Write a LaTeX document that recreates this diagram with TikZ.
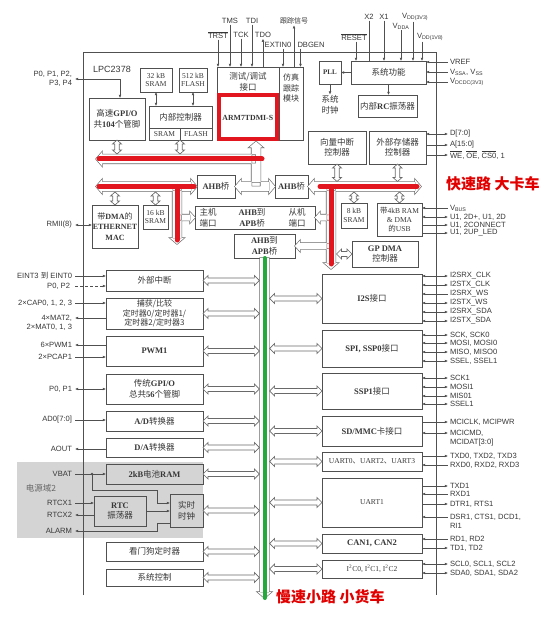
\documentclass[tikz,border=0pt]{standalone}
\usepackage{fontspec}
\setmainfont{Liberation Serif}
\setsansfont{Liberation Sans}
\newfontfamily\cjk{Noto Sans CJK SC}
\usetikzlibrary{arrows.meta,calc}
\definecolor{bc}{RGB}{80,80,80}
\definecolor{tc}{RGB}{55,55,55}
\definecolor{hc}{RGB}{105,105,105}
\definecolor{pdc}{RGB}{212,212,212}
\definecolor{rb}{RGB}{226,22,30}
\definecolor{gb}{RGB}{34,170,60}
\definecolor{rt}{RGB}{225,0,0}
\newcommand\zh[1]{{\cjk #1}}
\newcommand\latb[1]{{\rmfamily\bfseries #1}}
\newcommand\ovl[1]{$\overline{\mbox{#1}}$}
\newcommand\bx[7][]{\node[box,minimum width={#5-#3},minimum height={#6-#4},#1] (#2) at ({(#3+#5)/2},{(#4+#6)/2}) {#7};}
\newcommand\ls[5]{\node[lbl,anchor=east] (#1) at (73,#3) {#4}; \draw[sig,#5] ($(#1.east)+(2,0)$) -- (#1.east -| #2.west);}
\newcommand\rs[5]{\node[lbl,anchor=west] (#1) at (449,#3) {#4}; \draw[sig,#5] (#1.west -| #2.east) -- ($(#1.west)+(-1,0)$);}
\def\hdbl#1#2{let \p1=(#1),\p2=(#2) in (\x1,\y1) -- ({\x1+5pt},{\y1+5pt}) -- ({\x1+5pt},{\y1+2.5pt}) -- ({\x2-5pt},{\y1+2.5pt}) -- ({\x2-5pt},{\y1+5pt}) -- (\x2,\y1) -- ({\x2-5pt},{\y1-5pt}) -- ({\x2-5pt},{\y1-2.5pt}) -- ({\x1+5pt},{\y1-2.5pt}) -- ({\x1+5pt},{\y1-5pt}) -- cycle}
\def\vdbl#1#2{let \p1=(#1),\p2=(#2) in (\x1,\y1) -- ({\x1+4.5pt},{\y1-4pt}) -- ({\x1+2.2pt},{\y1-4pt}) -- ({\x1+2.2pt},{\y2+4pt}) -- ({\x1+4.5pt},{\y2+4pt}) -- (\x1,\y2) -- ({\x1-4.5pt},{\y2+4pt}) -- ({\x1-2.2pt},{\y2+4pt}) -- ({\x1-2.2pt},{\y1-4pt}) -- ({\x1-4.5pt},{\y1-4pt}) -- cycle}
\def\Hbar#1#2#3{let \p1=(#1),\p2=(#2) in (\x1,{\y1-#3}) rectangle (\x2,{\y1+#3})}
\def\Vbar#1#2#3{let \p1=(#1),\p2=(#2) in ({\x1-#3},\y1) rectangle ({\x1+#3},\y2)}
\def\Hl#1#2#3{let \p1=(#1) in (\x1,\y1) -- ({\x1+#3},{\y1+#2}) -- ({\x1+#3},{\y1-#2}) -- cycle}
\def\Hr#1#2#3{let \p1=(#1) in (\x1,\y1) -- ({\x1-#3},{\y1+#2}) -- ({\x1-#3},{\y1-#2}) -- cycle}
\def\Vu#1#2#3{let \p1=(#1) in (\x1,\y1) -- ({\x1-#2},{\y1-#3}) -- ({\x1+#2},{\y1-#3}) -- cycle}
\def\Vdn#1#2#3{let \p1=(#1) in (\x1,\y1) -- ({\x1-#2},{\y1+#3}) -- ({\x1+#2},{\y1+#3}) -- cycle}
\newcommand\bus[1]{\path[draw=hc,line width=1.3pt,line join=miter] #1; \path[fill=white] #1;}
\begin{document}
\begin{tikzpicture}[x=1pt,y=-1pt,
 box/.style={draw=bc,line width=0.9pt,inner sep=0pt,outer sep=0pt,align=center,text=tc,font=\cjk\fontsize{8.5}{10.5}\selectfont},
 ser/.style={font=\rmfamily\fontsize{7.5}{8.8}\selectfont},
 lbl/.style={inner sep=1pt,outer sep=0pt,text=tc,align=right,font=\sffamily\fontsize{7.6}{8.8}\selectfont},
 zl/.style={inner sep=1pt,outer sep=0pt,text=tc,align=center,font=\cjk\fontsize{8.5}{11}\selectfont},
 sig/.style={draw=bc,line width=0.55pt,>={Latex[length=3.2pt,width=2.8pt]}},
 hol/.style={draw=hc,line width=0.65pt,fill=white,line join=miter},
 redbus/.style={draw=rb,line width=5pt,line cap=round},
 redtxt/.style={text=rt,inner sep=0pt,font=\cjk\bfseries\fontsize{15}{15}\selectfont},
]
\useasboundingbox (0,0) rectangle (553,620);
% power domain and chip outline
\fill[pdc] (17,462) rectangle (203,538);
\draw[bc,line width=0.9pt] (83,595) -- (83,52) -- (436,52) -- (436,595);
\node[lbl,font=\sffamily\fontsize{9}{10}\selectfont] (chipname) at (112,69) {LPC2378};
\node[zl,text=black!60] (pd) at (41,488) {电源域2};

% ---------- boxes ----------
\bx{gpio}{89}{98}{145}{140}{高速\latb{GPI/O}\\共\latb{104}个管脚}
\bx[ser]{sram32}{140}{68}{172}{92}{32 kB\\SRAM}
\bx[ser]{flash}{179}{68}{207}{92}{512 kB\\FLASH}
\bx{memc}{149}{106}{212}{128}{内部控制器}
\bx[ser]{memsram}{149}{128}{180}{140}{SRAM}
\bx[ser]{memflash}{180}{128}{212}{140}{FLASH}
\bx{dbg}{217}{67}{279}{140}{}
\node[zl] (dbgt) at (248,82) {测试/调试\\接口};
\node[draw=rb,line width=4pt,inner sep=0pt,outer sep=0pt,minimum width=57.5,minimum height=44,text=tc,font=\rmfamily\bfseries\fontsize{7.8}{9}\selectfont] (arm) at (247.75,117.5) {ARM7TDMI-S};
\bx{etm}{279}{67}{303}{140}{}
\node[zl,font=\cjk\fontsize{8}{10.5}\selectfont] (etmt) at (291,88) {仿真\\跟踪\\模块};
\bx[font=\rmfamily\bfseries\fontsize{7}{8}\selectfont]{pll}{319}{61}{341}{84}{PLL}
\bx{sysf}{351}{61}{426}{84}{系统功能}
\bx{rc}{358}{95}{417}{117}{内部\latb{RC}振荡器}
\bx{vic}{308}{131}{366}{164}{向量中断\\控制器}
\bx{emc}{369}{131}{426}{164}{外部存储器\\控制器}
\bx{bridgeL}{197}{175}{235}{198}{\latb{AHB}桥}
\bx{bridgeR}{275}{175}{308}{198}{\latb{AHB}桥}
\bx[font=\cjk\fontsize{8}{10.5}\selectfont]{mac}{92}{205}{138}{248}{带\latb{DMA}的\\\latb{ETHERNET}\\\latb{MAC}}
\bx[ser]{sram16}{143}{205}{168}{229}{16 kB\\SRAM}
\bx{apbw}{195}{206}{315}{229}{}
\node[zl] (mport) at (208,217.5) {主机\\端口};
\node[zl] (apbwt) at (252,217.5) {\latb{AHB}到\\\latb{APB}桥};
\node[zl] (sport) at (297,217.5) {从机\\端口};
\bx{apbs}{234}{234}{295}{258}{\latb{AHB}到\\\latb{APB}桥}
\bx[ser]{sram8}{341}{203}{367}{228}{8 kB\\SRAM}
\bx[ser]{usb}{377}{203}{422}{236}{\zh{带}4kB RAM\\\& DMA\\\zh{的}USB}
\bx{gpdma}{352}{241}{418}{267}{\latb{GP DMA}\\控制器}

\bx{ext}{106}{270}{203}{291}{外部中断}
\bx[font=\cjk\fontsize{8}{9.5}\selectfont]{tmr}{106}{298}{203}{329}{捕获/比较\\定时器0/定时器1/\\定时器2/定时器3}
\bx{pwm}{106}{336}{203}{366}{\latb{PWM1}}
\bx{gpio2}{106}{374}{203}{404}{传统\latb{GPI/O}\\总共\latb{56}个管脚}
\bx{adc}{106}{411}{203}{431}{\latb{A/D}转换器}
\bx{dac}{106}{438}{203}{457}{\latb{D/A}转换器}
\bx[fill=pdc]{bram}{106}{464}{203}{484}{\latb{2kB}电池\latb{RAM}}
\bx[fill=pdc]{rtco}{94}{496}{146}{526}{\latb{RTC}\\振荡器}
\bx[fill=pdc]{rtc}{170}{494}{203}{527}{实时\\时钟}
\bx{wdt}{106}{542}{203}{561}{看门狗定时器}
\bx{sysc}{106}{569}{203}{586}{系统控制}

\bx{i2s}{322}{274}{422}{323}{\latb{I2S}接口}
\bx{spi}{322}{330}{422}{367}{\latb{SPI, SSP0}接口}
\bx{ssp1}{322}{373}{422}{409}{\latb{SSP1}接口}
\bx{sd}{322}{416}{422}{446}{\latb{SD/MMC}卡接口}
\bx[ser]{uart0}{322}{452}{422}{471}{UART0\zh{、}UART2\zh{、}UART3}
\bx[ser]{uart1}{322}{478}{422}{527}{UART1}
\bx{can}{322}{534}{422}{553}{\latb{CAN1, CAN2}}
\bx[ser]{i2c}{322}{560}{422}{578}{I\textsuperscript{2}C0, I\textsuperscript{2}C1, I\textsuperscript{2}C2}

% ---------- hollow buses ----------
\coordinate (lbL) at (96,159);
\coordinate (stemT) at (256,141.5);
\coordinate (stemB) at (256,186.5);
\bus{\Hl{lbL}{7pt}{6pt} \Hbar{$(lbL)+(5.5,0)$}{stemB |- lbL}{4.5pt} \Vu{stemT}{7pt}{6pt} \Vbar{$(stemT)+(0,5.5)$}{stemB}{4.5pt} \Hl{bridgeL.east}{7pt}{6pt} \Hbar{$(bridgeL.east)+(5.5,0)$}{$(bridgeR.west)+(-5.5,0)$}{4.5pt} \Hr{bridgeR.west}{7pt}{6pt}}
\coordinate (b2L) at (96,186.5);
\coordinate (b2v) at (177,186.5);
\coordinate (b2e) at (177,244);
\bus{\Hl{b2L}{7pt}{6pt} \Hbar{$(b2L)+(5.5,0)$}{$(bridgeL.west)+(-5.5,0)$}{4.5pt} \Hr{bridgeL.west}{7pt}{6pt} \Vbar{b2v}{$(b2e)+(0,-5.5)$}{4.5pt} \Vdn{b2e}{7pt}{6pt} \Hbar{apbw.west -| b2v}{$(apbw.west)+(-4.5,0)$}{3pt} \Hr{apbw.west}{5.5pt}{5pt}}
\coordinate (b1R) at (421,186.5);
\coordinate (b1v) at (331,186.5);
\coordinate (b1e) at (331,269);
\bus{\Hl{bridgeR.east}{7pt}{6pt} \Hbar{$(bridgeR.east)+(5.5,0)$}{$(b1R)+(-5.5,0)$}{4.5pt} \Hr{b1R}{7pt}{6pt} \Vbar{b1v}{$(b1e)+(0,-5.5)$}{4.5pt} \Vdn{b1e}{7pt}{6pt} \Hl{apbw.east}{5.5pt}{5pt} \Hbar{$(apbw.east)+(4.5,0)$}{apbw.east -| b1v}{3pt} \Hl{apbs.east}{5.5pt}{5pt} \Hbar{$(apbs.east)+(4.5,0)$}{apbs.east -| b1v}{3pt}}
\coordinate (apbE) at (264.5,598);
\bus{\Vbar{apbs.south}{$(apbE)+(0,-5.5)$}{4.5pt} \Vdn{apbE}{7pt}{6pt}}

% small hollow connectors
\path[hol] \vdbl{gpio.south}{gpio.south |- 0,154};
\path[hol] \vdbl{memsram.south east}{memsram.south east |- 0,154};
\path[hol] \vdbl{mac.north |- 0,192}{mac.north};
\path[hol] \vdbl{sram16.north |- 0,192}{sram16.north};
\path[hol] \vdbl{vic.south}{vic.south |- 0,181.5};
\path[hol] \vdbl{emc.south}{emc.south |- 0,181.5};
\path[hol] \vdbl{sram8.north |- 0,192}{sram8.north};
\path[hol] \vdbl{usb.north |- 0,192}{usb.north};
\path[hol] \hdbl{gpdma.west -| 336.5,0}{gpdma.west};
\coordinate (apbl) at (259.4,0);
\coordinate (apbr) at (269.6,0);
\foreach \nm in {ext,tmr,pwm,gpio2,adc,dac,bram,rtc,wdt,sysc} {\path[hol] \hdbl{\nm.east}{\nm.east -| apbl};}
\foreach \nm in {i2s,spi,ssp1,sd,uart0,uart1,can,i2c} {\path[hol] \hdbl{\nm.west -| apbr}{\nm.west};}

% red and green bars
\draw[redbus] ($(lbL)+(3,0)$) -- (262,159);
\draw[redbus] ($(b2L)+(3,0)$) -- ($(bridgeL.west)+(-3,0)$);
\draw[redbus] (b2v) -- ($(b2e)+(0,-4)$);
\draw[redbus] (320,186.5) -- ($(b1R)+(-4,0)$);
\draw[redbus] (b1v) -- ($(b1e)+(0,-5)$);
\draw[draw=gb,line width=4pt,line cap=round] (apbs.south) -- (apbE);

% ---------- signals: top ----------
\node[lbl,anchor=east] (pl) at (73,79) {P0, P1, P2,\\P3, P4};
\draw[sig,<->] ($(pl.east)+(2,0)$) -| ($(gpio.north)+(3,0)$);
\draw[sig,<->] (sram32.south) -- (sram32.south |- memc.north);
\draw[sig,<->] (flash.south) -- (flash.south |- memc.north);
\node[lbl] (trst) at (218,35) {\ovl{TRST}};
\draw[sig,->] (trst.south) -- (trst.south |- dbg.north);
\node[lbl] (tms) at (230,21) {TMS};
\draw[sig,->] (tms.south) -- (tms.south |- dbg.north);
\node[lbl] (tck) at (241,35) {TCK};
\draw[sig,->] (tck.south) -- (tck.south |- dbg.north);
\node[lbl] (tdi) at (252,21) {TDI};
\draw[sig,->] (tdi.south) -- (tdi.south |- dbg.north);
\node[lbl] (tdo) at (263,35) {TDO};
\draw[sig,->] (tdo.south |- dbg.north) -- (tdo.south);
\node[lbl] (extin) at (278,45) {EXTIN0};
\draw[sig,->] (extin.south -| 283,0) -- (etm.north -| 283,0);
\node[lbl,anchor=west] (dbgen) at (296.5,45) {DBGEN};
\draw[sig,->] (dbgen.south -| 300.5,0) -- (etm.north -| 300.5,0);
\node[zl,font=\cjk\fontsize{7}{8}\selectfont] (trace) at (294,21) {跟踪信号};
\draw[sig,->] (etm.north -| trace.south) -- (trace.south);

\node[lbl] (rst) at (354,37) {\ovl{RESET}};
\draw[sig,->] (rst.south -| 356,0) -- (sysf.north -| 356,0);
\node[lbl] (x2) at (369,17) {X2};
\draw[sig] (x2.south) -- (x2.south |- sysf.north);
\node[lbl] (x1) at (384,17) {X1};
\draw[sig,->] (x1.south) -- (x1.south |- sysf.north);
\node[lbl] (vdda) at (401,26) {V\textsubscript{DDA}};
\draw[sig,->] (vdda.south) -- (vdda.south |- sysf.north);
\node[lbl,anchor=west] (vdd33) at (401,17) {V\textsubscript{DD(3V3)}};
\draw[sig,->] (vdd33.south -| 413,0) -- (sysf.north -| 413,0);
\node[lbl,anchor=west] (vdd18) at (416,37) {V\textsubscript{DD(1V8)}};
\draw[sig,->] (vdd18.south -| 422,0) -- (sysf.north -| 422,0);
\rs{vref}{sysf}{62}{VREF}{<-}
\rs{vss}{sysf}{72}{V\textsubscript{SSA}, V\textsubscript{SS}}{<-}
\rs{vdcdc}{sysf}{82}{V\textsubscript{DCDC(3V3)}}{<-}
\draw[sig,->] (sysf.west) -- (pll.east);
\node[zl] (sclk) at (330,105) {系统\\时钟};
\draw[sig,->] (pll.south) -- (sclk.north);
\draw[sig,->] (sysf.south) -- (sysf.south |- rc.north);
\rs{dbus}{emc}{134}{D[7:0]}{<->}
\rs{abus}{emc}{145}{A[15:0]}{->}
\rs{ctl}{emc}{155}{\ovl{WE}, \ovl{OE}, \ovl{CS0}, 1}{->}

% USB and RMII
\rs{vbus}{usb}{208}{V\textsubscript{BUS}}{<-}
\rs{udp}{usb}{217}{U1, 2D+, U1, 2D}{<->}
\rs{ucon}{usb}{225}{U1, 2CONNECT}{->}
\rs{uled}{usb}{233}{U1, 2UP\_LED}{->}
\node[lbl,anchor=east] (rmii) at (73,225) {RMII(8)};
\draw[sig,<->] ($(rmii.east)+(2,0)$) -- (rmii.east -| mac.west);

% ---------- left signals ----------
\ls{eint}{ext}{276}{EINT3 \zh{到} EINT0}{->}
\node[lbl,anchor=east] (p02) at (71,286) {P0, P2};
\draw[sig,->,dash pattern=on 3pt off 2pt] ($(p02.east)+(4,0)$) -- (p02.east -| ext.west);
\ls{cap}{tmr}{303}{2×CAP0, 1, 2, 3}{->}
\ls{mat}{tmr}{318}{4×MAT2,}{<-}
\node[lbl,anchor=east] (mat2) at (73,327) {2×MAT0, 1, 3};
\ls{pwmo}{pwm}{345}{6×PWM1}{<-}
\ls{pcap}{pwm}{357}{2×PCAP1}{->}
\ls{p01}{gpio2}{389}{P0, P1}{<->}
\ls{ad}{adc}{420}{AD0[7:0]}{->}
\ls{aout}{dac}{449}{AOUT}{<-}
\ls{vbat}{bram}{474}{VBAT}{->}
\coordinate (vj) at (92,474);
\fill[bc] (vj) circle (1.3pt);
\draw[sig,->] (vj) |- (157,490) |- (rtc.west |- 0,503);
\ls{rx1}{rtco}{503}{RTCX1}{->}
\ls{rx2}{rtco}{515}{RTCX2}{<-}
\draw[sig,->] (rtco.east) -- (rtco.east -| rtc.west);
\node[lbl,anchor=east] (alarm) at (73,531) {ALARM};
\draw[sig,->] (rtc.west |- 0,523) -| (157,531) -- ($(alarm.east)+(2,0)$);

% ---------- right signals ----------
\rs{s1}{i2s}{276}{I2SRX\_CLK}{<->}
\rs{s2}{i2s}{285}{I2STX\_CLK}{<->}
\rs{s3}{i2s}{294}{I2SRX\_WS}{<-}
\rs{s4}{i2s}{303}{I2STX\_WS}{<->}
\rs{s5}{i2s}{312}{I2SRX\_SDA}{<->}
\rs{s6}{i2s}{321}{I2STX\_SDA}{<->}
\rs{s7}{spi}{335}{SCK, SCK0}{<->}
\rs{s8}{spi}{343}{MOSI, MOSI0}{<->}
\rs{s9}{spi}{352}{MISO, MISO0}{<->}
\rs{s10}{spi}{361}{SSEL, SSEL1}{<->}
\rs{s11}{ssp1}{378}{SCK1}{<->}
\rs{s12}{ssp1}{387}{MOSI1}{<->}
\rs{s13}{ssp1}{396}{MIS01}{<->}
\rs{s14}{ssp1}{404}{SSEL1}{<->}
\rs{s15}{sd}{422}{MCICLK, MCIPWR}{->}
\rs{s16}{sd}{433}{MCICMD,}{<->}
\node[lbl,anchor=west] (s17) at (449,443) {MCIDAT[3:0]};
\rs{s18}{uart0}{456}{TXD0, TXD2, TXD3}{->}
\rs{s19}{uart0}{465}{RXD0, RXD2, RXD3}{<-}
\rs{s20}{uart1}{486}{TXD1}{->}
\rs{s21}{uart1}{494}{RXD1}{<-}
\rs{s22}{uart1}{504}{DTR1, RTS1}{->}
\rs{s23}{uart1}{517}{DSR1, CTS1, DCD1,}{<-}
\node[lbl,anchor=west] (s24) at (449,526) {RI1};
\rs{s25}{can}{539}{RD1, RD2}{<-}
\rs{s26}{can}{548}{TD1, TD2}{->}
\rs{s27}{i2c}{564}{SCL0, SCL1, SCL2}{<->}
\rs{s28}{i2c}{573}{SDA0, SDA1, SDA2}{<->}

% ---------- red annotations ----------
\node[redtxt,anchor=west] (fast) at (446,184) {快速路 大卡车};
\node[redtxt,anchor=west] (slow) at (276,597) {慢速小路 小货车};
\end{tikzpicture}
\end{document}
